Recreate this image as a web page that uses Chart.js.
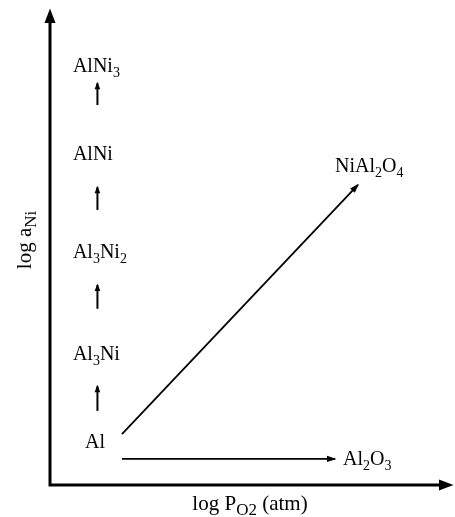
<!DOCTYPE html>
<html>
<head>
  <script src="https://cdn.jsdelivr.net/npm/chart.js"></script>
  <title>Al-Ni oxidation paths</title>
  <style>body { margin: 0; background: #fff; }</style>
</head>
<body>
  <div style="width:455px;height:517px;">
    <canvas id="diagram"></canvas>
  </div>

  <script>
    // Diagram units run 0-10 on both axes (schematic, no ticks)
    // Phase labels: text (digits in _{} are subscripts), left edge, baseline
    const phaseNames = ['AlNi_{3}', 'AlNi', 'Al_{3}Ni_{2}', 'Al_{3}Ni', 'Al', 'NiAl_{2}O_{4}', 'Al_{2}O_{3}'];
    const phaseX = [0.57, 0.57, 0.57, 0.57, 0.87, 7.09, 7.29];
    const phaseY = [8.69, 6.84, 4.78, 2.63, 0.78, 6.59, 0.42];

    // Short arrows between the Al-Ni phases: column x, tail y, tip y
    const stepX = [1.18, 1.18, 1.18, 1.18];
    const stepFrom = [8.0, 5.79, 3.71, 1.56];
    const stepTo = [8.46, 6.27, 4.21, 2.08];

    // The two oxidation paths starting at Al
    const pathFromX = [1.79, 1.79];
    const pathFromY = [1.07, 0.55];
    const pathToX = [7.66, 7.09];
    const pathToY = [6.32, 0.55];

    const xTitle = 'log P_{O2} (atm)';
    const yTitle = 'log a_{Ni}';

    const FONT = '"Liberation Serif", "Times New Roman", serif';

    // split "AlNi_{3}" into plain / subscript pieces
    function pieces(str) {
      const out = [];
      const re = /_\{([^}]*)\}/g;
      let last = 0, m;
      while ((m = re.exec(str)) !== null) {
        if (m.index > last) out.push({ t: str.slice(last, m.index), sub: false });
        out.push({ t: m[1], sub: true });
        last = re.lastIndex;
      }
      if (last < str.length) out.push({ t: str.slice(last), sub: false });
      return out;
    }

    function drawRich(ctx, str, x, y, size, align, subRatio) {
      const parts = pieces(str);
      const subSize = Math.round(size * (subRatio || 0.72));
      let total = 0;
      parts.forEach(p => {
        ctx.font = (p.sub ? subSize : size) + 'px ' + FONT;
        p.w = ctx.measureText(p.t).width;
        total += p.w;
      });
      let cx = align === 'center' ? x - total / 2 : x;
      ctx.textAlign = 'left';
      ctx.textBaseline = 'alphabetic';
      parts.forEach(p => {
        ctx.font = (p.sub ? subSize : size) + 'px ' + FONT;
        ctx.fillText(p.t, cx, p.sub ? y + size * 0.24 : y);
        cx += p.w;
      });
    }

    function arrowHead(ctx, x0, y0, x1, y1, len, half) {
      const a = Math.atan2(y1 - y0, x1 - x0);
      ctx.save();
      ctx.translate(x1, y1);
      ctx.rotate(a);
      ctx.beginPath();
      ctx.moveTo(1.5, 0);
      ctx.lineTo(-len, -half);
      ctx.lineTo(-len, half);
      ctx.closePath();
      ctx.fill();
      ctx.restore();
    }

    const datasets = [];
    stepX.forEach((x, i) => {
      datasets.push({
        data: [{ x: x, y: stepFrom[i] }, { x: x, y: stepTo[i] }],
        borderWidth: 2, head: [6, 2.8]
      });
    });
    pathFromX.forEach((x, i) => {
      datasets.push({
        data: [{ x: x, y: pathFromY[i] }, { x: pathToX[i], y: pathToY[i] }],
        borderWidth: 1.8, head: [8, 3.2]
      });
    });
    datasets.forEach(d => {
      d.showLine = true;
      d.pointRadius = 0;
      d.borderColor = '#000';
      d.backgroundColor = '#000';
    });

    const diagramPlugin = {
      id: 'diagram',
      afterDatasetsDraw(chart) {
        const ctx = chart.ctx;
        const a = chart.chartArea;
        const sx = chart.scales.x, sy = chart.scales.y;
        ctx.save();
        ctx.fillStyle = '#000';
        ctx.strokeStyle = '#000';

        // arrow heads on every path
        chart.data.datasets.forEach((d, i) => {
          const pts = chart.getDatasetMeta(i).data;
          const p0 = pts[0], p1 = pts[pts.length - 1];
          arrowHead(ctx, p0.x, p0.y, p1.x, p1.y, d.head[0], d.head[1]);
        });

        // axes with arrows
        ctx.lineWidth = 3;
        ctx.beginPath();
        ctx.moveTo(a.left, a.top + 10);
        ctx.lineTo(a.left, a.bottom);
        ctx.lineTo(a.right - 10, a.bottom);
        ctx.stroke();
        arrowHead(ctx, a.left, a.bottom, a.left, a.top, 13, 5.5);
        arrowHead(ctx, a.left, a.bottom, a.right, a.bottom, 13, 5.5);

        // phase labels
        phaseNames.forEach((name, i) => {
          drawRich(ctx, name, sx.getPixelForValue(phaseX[i]), sy.getPixelForValue(phaseY[i]), 20, 'left');
        });

        // axis titles
        drawRich(ctx, xTitle, 250, 510, 21, 'center', 0.8);
        ctx.save();
        ctx.translate(31, 240);
        ctx.rotate(-Math.PI / 2);
        drawRich(ctx, yTitle, 0, 0, 21, 'center', 0.8);
        ctx.restore();

        ctx.restore();
      }
    };

    new Chart(document.getElementById('diagram').getContext('2d'), {
      type: 'scatter',
      data: { datasets: datasets },
      options: {
        responsive: true,
        maintainAspectRatio: false,
        animation: false,
        layout: { padding: { left: 50, right: 3, top: 10, bottom: 32 } },
        plugins: { legend: { display: false }, tooltip: { enabled: false } },
        scales: {
          x: { type: 'linear', min: 0, max: 10, display: false },
          y: { type: 'linear', min: 0, max: 10, display: false }
        }
      },
      plugins: [diagramPlugin]
    });
  </script>
</body>
</html>
